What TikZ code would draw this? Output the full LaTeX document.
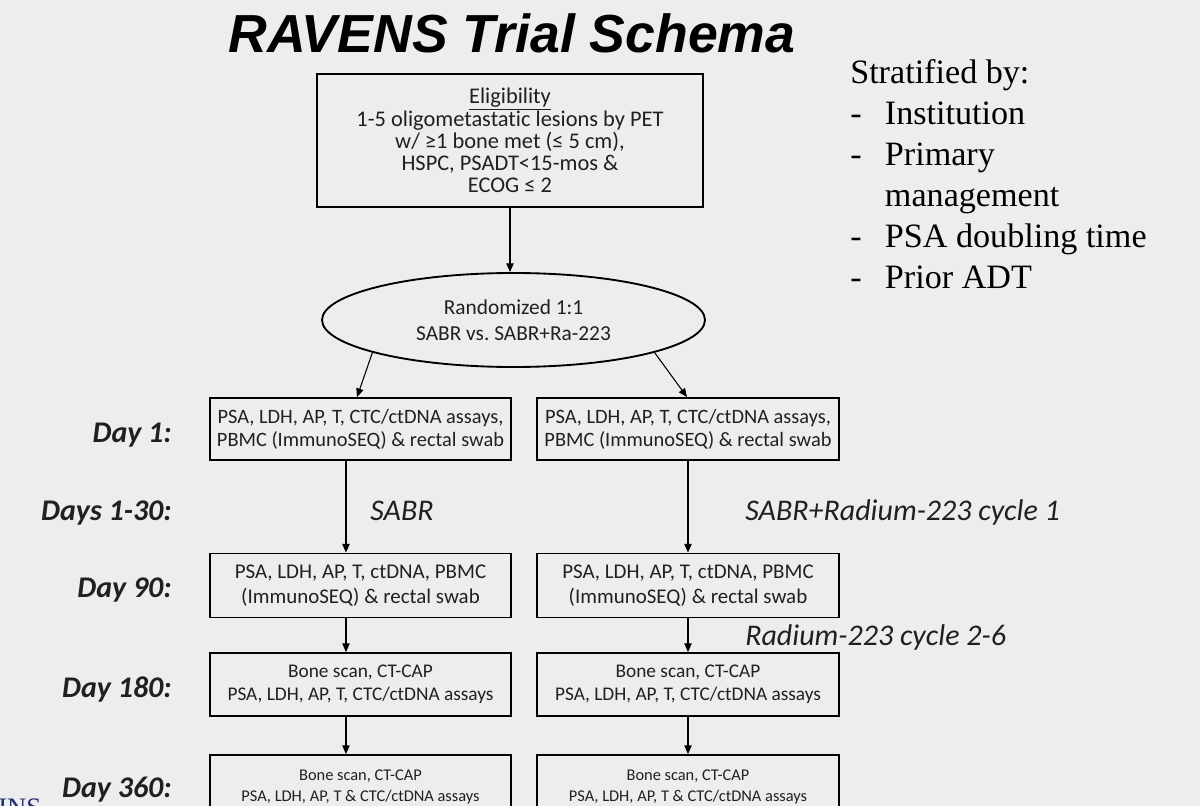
\documentclass[tikz,border=0pt]{standalone}
\usepackage{fontspec}
\setmainfont{Carlito}[Ligatures={NoCommon}]
\newfontfamily\titlefont{Liberation Sans}
\newfontfamily\seriffont{Liberation Serif}
\usetikzlibrary{arrows.meta,shapes.geometric}
\definecolor{bg}{RGB}{237,237,237}
\definecolor{ink}{RGB}{32,32,32}
\definecolor{navy}{RGB}{30,45,110}
\newcommand\setfs[2]{\fontsize{#1}{#2}\selectfont}
\frenchspacing
\begin{document}
\begin{tikzpicture}[x=0.75pt,y=-0.75pt,
  box/.style={draw=black, line width=1.4pt, align=center, inner sep=0pt, text=ink, minimum width=226pt},
  arr/.style={-{Triangle[length=6.5pt,width=5.5pt]}, line width=0.8pt},
  daylbl/.style={anchor=base east, inner sep=0pt, font=\setfs{22.5}{27}\bfseries\itshape, text=ink},
  treat/.style={anchor=base west, inner sep=0pt, font=\setfs{22.5}{27}\itshape, text=ink},
]
\useasboundingbox (0,0) rectangle (1200,806);
\fill[bg] (0,0) rectangle (1200,806);
\clip (0,0) rectangle (1200,806);

% title
\node[inner sep=0pt, font=\titlefont\setfs{40.2}{46}\bfseries\itshape] (title) at (512,33) {RAVENS Trial Schema};

% stratification
\node[anchor=base west, inner sep=0pt, align=left, text=black, font=\seriffont\setfs{25.6}{30.75}] (strat) at (850,84)
  {\begin{tabular}[t]{@{}l@{\hspace{17.5pt}}l@{}}
   \multicolumn{2}{@{}l@{}}{Stratified by:}\\
   -& Institution\\
   -& Primary\\
    & management\\
   -& PSA doubling time\\
   -& Prior ADT
   \end{tabular}};

% eligibility
\node[box, minimum width=289.5pt, minimum height=99.75pt, font=\setfs{16.8}{16.5}] (elig) at (510,140.5)
  {\underline{Eligibility}\\1-5 oligometastatic lesions by PET\\w/ ≥1 bone met (≤ 5 cm),\\HSPC, PSADT<15-mos \&\\ECOG ≤ 2};

% randomization
\node[ellipse, draw=black, line width=1.4pt, inner sep=0pt, minimum width=287.25pt, minimum height=70.5pt, align=center, text=ink, font=\setfs{16}{19.5}] (ell) at (513.5,320)
  {Randomized 1:1\\SABR vs. SABR+Ra-223};

% day 1
\node[box, minimum height=46.5pt, font=\setfs{15.3}{17.25}] (d1L) at (360.5,429)
  {PSA, LDH, AP, T, CTC/ctDNA assays,\\PBMC (ImmunoSEQ) \& rectal swab};
\node[box, minimum height=46.5pt, font=\setfs{15.3}{17.25}] (d1R) at (688,429)
  {PSA, LDH, AP, T, CTC/ctDNA assays,\\PBMC (ImmunoSEQ) \& rectal swab};

% day 90
\node[box, minimum height=48pt, font=\setfs{15.7}{18.75}] (d90L) at (360.5,585.5)
  {PSA, LDH, AP, T, ctDNA, PBMC\\(ImmunoSEQ) \& rectal swab};
\node[box, minimum height=48pt, font=\setfs{15.7}{18.75}] (d90R) at (688,585.5)
  {PSA, LDH, AP, T, ctDNA, PBMC\\(ImmunoSEQ) \& rectal swab};

% day 180
\node[box, minimum height=47.25pt, font=\setfs{14.5}{17}] (d180L) at (360.5,684.5)
  {Bone scan, CT-CAP\\PSA, LDH, AP, T, CTC/ctDNA assays};
\node[box, minimum height=47.25pt, font=\setfs{14.5}{17}] (d180R) at (688,684.5)
  {Bone scan, CT-CAP\\PSA, LDH, AP, T, CTC/ctDNA assays};

% day 360
\node[box, minimum height=47.25pt, font=\setfs{12.3}{15.75}] (d360L) at (360.5,786.5)
  {Bone scan, CT-CAP\\PSA, LDH, AP, T \& CTC/ctDNA assays};
\node[box, minimum height=47.25pt, font=\setfs{12.3}{15.75}] (d360R) at (688,786.5)
  {Bone scan, CT-CAP\\PSA, LDH, AP, T \& CTC/ctDNA assays};

% day labels
\node[daylbl] (lab1) at (172,442) {Day 1:};
\node[daylbl] (lab130) at (172,520) {Days 1-30:};
\node[daylbl] (lab90) at (172,597) {Day 90:};
\node[daylbl] (lab180) at (172,697) {Day 180:};
\node[daylbl] (lab360) at (172,797) {Day 360:};

% treatment labels
\node[treat] (tSABR) at (370,520) {SABR};
\node[treat] (tSABRRa) at (745,520) {SABR+Radium-223 cycle 1};
\node[treat] (tRa) at (745,645) {Radium-223 cycle 2-6};

% partial logo text
\node[anchor=north west, inner sep=0pt, text=navy, font=\seriffont\setfs{20}{24}] (logo) at (-2,799) {INS};

% connectors
\draw[arr] (elig.south) -- (elig.south |- ell.north);
\draw[arr] (ell.193.7) -- ([xshift=-2.6pt]d1L.north);
\draw[arr] (ell.-13.5) -- ([xshift=-0.75pt]d1R.north);
\draw[arr] ([xshift=-10.9pt]d1L.south) -- ([xshift=-10.9pt]d90L.north);
\draw[arr] (d1R.south) -- (d90R.north);
\draw[arr] ([xshift=-10.9pt]d90L.south) -- ([xshift=-10.9pt]d180L.north);
\draw[arr] (d90R.south) -- (d180R.north);
\draw[arr] ([xshift=-10.9pt]d180L.south) -- ([xshift=-10.9pt]d360L.north);
\draw[arr] (d180R.south) -- (d360R.north);
\end{tikzpicture}
\end{document}
